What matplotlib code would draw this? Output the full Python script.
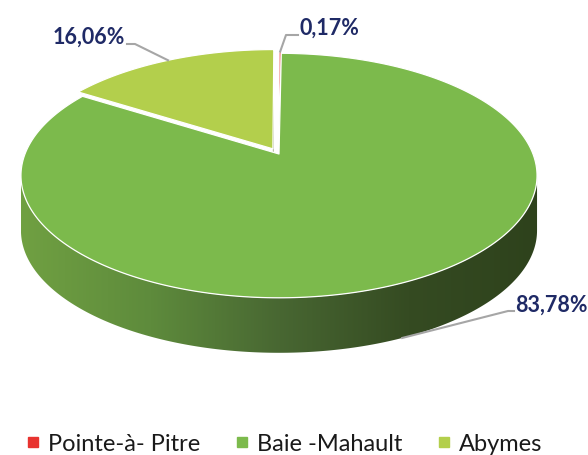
import numpy as np
import matplotlib.pyplot as plt
from matplotlib.patches import Polygon
from matplotlib.lines import Line2D
from matplotlib.colors import LinearSegmentedColormap

# data
communes = ['Pointe-à- Pitre', 'Baie -Mahault', 'Abymes']
parts = [0.17, 83.78, 16.06]
pct_labels = ['0,17%', '83,78%', '16,06%']

# style
top_colors = ['#e8332f', '#7cba4c', '#b3cf4c']
explode = [0.02, 0.0, 0.05]
side_cmap = LinearSegmentedColormap.from_list(
    'side', ['#70a042', '#5e8b3c', '#486732', '#354b22', '#2e421c'])
text_color = '#1f2a66'
line_color = '#a6a6a6'

# 3d view (screen pixels)
elev = np.radians(27.8)
dist = 5.02
wall_px = 55
scale = 254
cx, cy = 279, 155


def project(x, y, z=0.0):
    # perspective for the pie plane, plain pixel drop for the thickness
    depth = y * np.cos(elev) + dist
    f = dist / depth
    return cx + scale * x * f, cy - scale * y * np.sin(elev) * f + wall_px * z


def rim(t, off, z=0.0):
    t = np.atleast_1d(t)
    return project(off[0] + np.cos(t), off[1] + np.sin(t), z)


fig = plt.figure(figsize=(5.88, 4.56), dpi=100)
ax = fig.add_axes([0, 0, 1, 1])

fractions = np.array(parts) / sum(parts)
bounds = np.pi / 2 - 2 * np.pi * np.concatenate([[0], np.cumsum(fractions)])

slices = []
for i in range(len(parts)):
    t0, t1 = bounds[i], bounds[i + 1]
    mid = (t0 + t1) / 2
    off = (explode[i] * np.cos(mid), explode[i] * np.sin(mid))
    slices.append((t0, t1, mid, off))

grad = np.linspace(0, 1, 256).reshape(1, -1)

# draw order: far slices first
for i in [2, 0, 1]:
    t0, t1, mid, off = slices[i]
    if i == 1:
        # outer wall between the two silhouette points
        ts = np.linspace(np.radians(20), np.radians(-200), 600)
        ts = ts[(ts <= t0) & (ts >= t1)]
        rx, ry = rim(ts, off)
        k0, k1 = np.argmax(rx), np.argmin(rx)
        ts = ts[k0:k1 + 1]
        tx, ty = rim(ts, off)
        bx, by = rim(ts[::-1], off, 1.0)
        wall = Polygon(np.column_stack([np.concatenate([tx, bx]),
                                        np.concatenate([ty, by])]),
                       closed=True, facecolor='none', edgecolor='none')
        ax.add_patch(wall)
        im = ax.imshow(grad, cmap=side_cmap, aspect='auto', interpolation='bilinear',
                       extent=[tx.min(), tx.max(), by.max() + 2, ty.min() - 2])
        im.set_clip_path(wall)
    if i == 2:
        # cut face showing through the explosion gap
        p_top = project(off[0], off[1])
        p_bot = project(off[0], off[1], 1.0)
        r_top = rim(t1, off)
        r_bot = rim(t1, off, 1.0)
        quad = [p_top, (r_top[0][0], r_top[1][0]), (r_bot[0][0], r_bot[1][0]), p_bot]
        ax.add_patch(Polygon(quad, closed=True, facecolor='#56652c', edgecolor='none'))
    # top face
    ts = np.linspace(t0, t1, 300)
    rx, ry = rim(ts, off)
    ox, oy = project(off[0], off[1])
    pts = np.column_stack([np.concatenate([[ox], rx]), np.concatenate([[oy], ry])])
    ax.add_patch(Polygon(pts, closed=True, facecolor=top_colors[i],
                         edgecolor='white', lw=0.9, joinstyle='round'))

# data labels with leader lines
lab = dict(color=text_color, fontsize=15.5, fontweight='bold', family='Lato', va='center')

t0, t1, mid, off = slices[0]
px, py = rim(mid, off)
ax.plot([px[0], 286, 298], [py[0], 36, 36], color=line_color, lw=1.5)
ax.text(299, 28, pct_labels[0], ha='left', **lab)

t0, t1, mid, off = slices[2]
px, py = rim(mid, off)
ax.plot([px[0], 135, 127], [py[0], 45, 45], color=line_color, lw=1.5)
ax.text(125, 37, pct_labels[2], ha='right', **lab)

t0, t1, mid, off = slices[1]
px, py = rim(mid - 0.08, off, 1.0)
ax.plot([px[0], 508, 514], [py[0], 312, 312], color=line_color, lw=1.5)
ax.text(515, 305, pct_labels[1], ha='left', **lab)

ax.set_xlim(0, 588)
ax.set_ylim(456, 0)
ax.axis('off')

handles = [Line2D([], [], marker='s', linestyle='none', markersize=6.5,
                  color=c, label=n) for n, c in zip(communes, top_colors)]
fig.legend(handles=handles, loc='center', bbox_to_anchor=(0.485, 1 - 445 / 456),
           ncol=3, frameon=False, handlelength=0.4, handletextpad=0.45,
           columnspacing=1.55, borderpad=0, prop={'family': 'Lato', 'size': 17},
           labelcolor='#1a1a1a')

fig.savefig('out.png', dpi=100)
